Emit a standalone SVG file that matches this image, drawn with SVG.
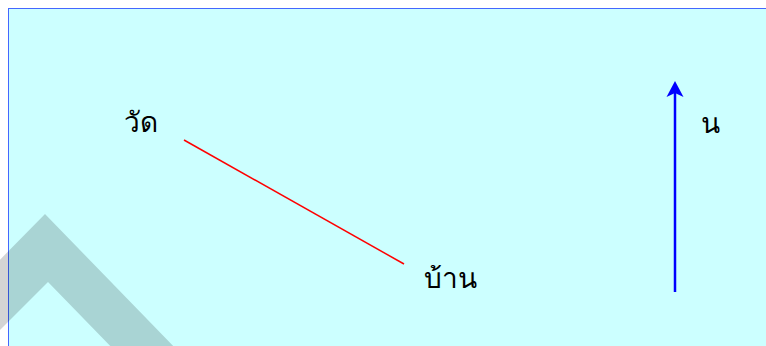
<svg xmlns="http://www.w3.org/2000/svg" width="766" height="346" viewBox="0 0 766 346">
<style>
.lbl{font-family:"Noto Sans","DejaVu Sans",sans-serif;font-size:28px;fill:#000}
</style>
<rect width="766" height="346" fill="#ffffff"/>
<rect x="8.5" y="8.5" width="800" height="400" fill="#ccffff" stroke="#4466ff" stroke-width="1"/>
<polygon points="45,214 181,354 118,354 48,282 -20,350 -20,280" fill="#000" fill-opacity="0.17"/>
<g id="connectors">
<line x1="184" y1="140" x2="404" y2="264" stroke="#ff0000" stroke-width="1.5"/>
<line x1="675" y1="292" x2="675" y2="92" stroke="#0000ff" stroke-width="2.5"/>
<path d="M675,81 L683.5,97 L675,93 L666.5,97 Z" fill="#0000ff"/>
</g>
<g id="wat"><text class="lbl" x="124" y="132">วัด</text></g>
<g id="ban"><text class="lbl" x="424" y="288">บ้าน</text></g>
<g id="north"><text class="lbl" x="701" y="133">น</text></g>
</svg>
